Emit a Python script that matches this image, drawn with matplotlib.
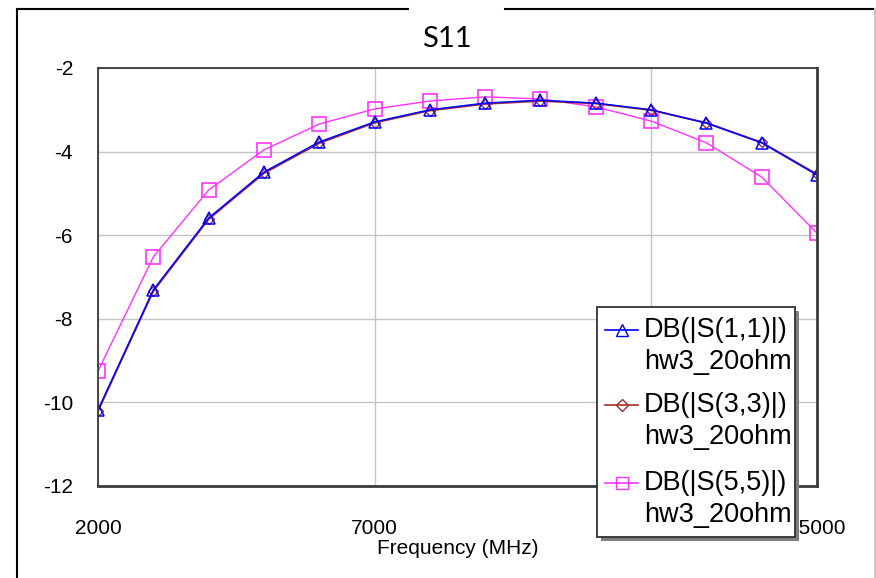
"""S11 sweep of the hw3_20ohm design: DB(|S(1,1)|), DB(|S(3,3)|), DB(|S(5,5)|)."""
import matplotlib
matplotlib.use("Agg")
import matplotlib.pyplot as plt
from matplotlib.lines import Line2D
from matplotlib.patches import Rectangle

plt.rcParams["font.family"] = ["Liberation Sans", "DejaVu Sans"]
plt.rcParams["axes.unicode_minus"] = False

# ------------------------------------------------------------------ data
freq_mhz = [2000, 3000, 4000, 5000, 6000, 7000, 8000, 9000, 10000,
            11000, 12000, 13000, 14000, 15000]
s11_db = [-10.18, -7.31, -5.59, -4.49, -3.77, -3.29, -3.00, -2.84, -2.77,
          -2.84, -3.00, -3.32, -3.79, -4.56]
s33_db = [-10.21, -7.34, -5.62, -4.52, -3.80, -3.31, -3.02, -2.86, -2.79,
          -2.85, -3.01, -3.31, -3.78, -4.54]
s55_db = [-9.25, -6.52, -4.92, -3.96, -3.34, -2.98, -2.79, -2.69, -2.74,
          -2.93, -3.27, -3.79, -4.61, -5.95]

x_ticks = [2000, 7000, 12000, 15000]
x_tick_labels = ["2000", "7000", "", "15000"]   # 12000 sits under the legend
y_ticks = [-2, -4, -6, -8, -10, -12]
series_names = ["DB(|S(1,1)|)", "DB(|S(3,3)|)", "DB(|S(5,5)|)"]
doc_name = "hw3_20ohm"

BLUE, BROWN, MAGENTA = "#0000ff", "#a0302c", "#ff33ff"
W, H = 876, 578


def fx(px):
    return px / W


def fy(py):
    return 1 - py / H


fig = plt.figure(figsize=(W / 100, H / 100), dpi=100)
ax = fig.add_axes([fx(98), fy(486), (817 - 98) / W, (486 - 68) / H])

ax.plot(freq_mhz, s55_db, color=MAGENTA, lw=1, marker="s", ms=10,
        mfc="none", mec=MAGENTA, mew=1.2)
ax.plot(freq_mhz, s33_db, color=BROWN, lw=1.3, marker="D", ms=5,
        mfc="none", mec=BROWN, mew=1)
ax.plot(freq_mhz, s11_db, color=BLUE, lw=1.1, marker="^", ms=9,
        mfc="none", mec=BLUE, mew=1.1)

ax.set_xlim(2000, 15000)
ax.set_ylim(-12, -2)
ax.set_xticks(x_ticks)
ax.set_xticklabels(x_tick_labels)
ax.set_yticks(y_ticks)
ax.set_yticklabels([str(t) for t in y_ticks])
ax.tick_params(length=0, labelsize=15, pad=18)
ax.tick_params(axis="x", pad=24)
ax.grid(color="#c4c4c4", lw=1)
ax.set_axisbelow(True)
for side, lw in [("left", 1.3), ("top", 1.3), ("right", 2.0), ("bottom", 2.0)]:
    ax.spines[side].set_color("#3a3a3a")
    ax.spines[side].set_linewidth(lw)

ax.set_xlabel("Frequency (MHz)", fontsize=15, va="center")
ax.xaxis.set_label_coords(0.5, (486 - 548) / 418)

fig.text(fx(447), fy(39), "S11", fontsize=21, family=["Lato", "DejaVu Sans"],
         ha="center", va="center")

# outer page frame (top line broken behind the title)
tf = fig.transFigure
for xs, ys, c in [((17, 408), (9, 9), "black"), ((505, 876), (9, 9), "black"),
                  ((17, 17), (9, 578), "black"), ((875, 875), (9, 578), "#c8c8c8")]:
    fig.add_artist(Line2D([fx(v) for v in xs], [fy(v) for v in ys],
                          transform=tf, color=c, lw=1.5))

# legend box, drawn by hand so the handle sits on the first text line
lx0, ly0, lx1, ly1 = 597, 307, 795, 537
fig.add_artist(Rectangle((fx(lx0 + 4), fy(ly1 + 4)), (lx1 - lx0) / W, (ly1 - ly0) / H,
                         transform=tf, fc="#808080", ec="none", zorder=5))
fig.add_artist(Rectangle((fx(lx0), fy(ly1)), (lx1 - lx0) / W, (ly1 - ly0) / H,
                         transform=tf, fc="white", ec="#333333", lw=1.3, zorder=6))
styles = [(BLUE, "^", 8), (BROWN, "D", 6), (MAGENTA, "s", 9)]
rows = [330, 405, 483]
for name, (c, m, ms), ry in zip(series_names, styles, rows):
    fig.add_artist(Line2D([fx(605), fx(621.5), fx(638)], [fy(ry)] * 3, transform=tf,
                          color=c, lw=1.2, marker=m, ms=ms, mfc="none", mec=c,
                          markevery=[1], zorder=7))
    fig.text(fx(644), fy(ry), name, fontsize=19.5, va="center", zorder=7)
    fig.text(fx(644), fy(ry + 32), doc_name, fontsize=19.5, va="center", zorder=7)

fig.savefig("out.png", dpi=100)
